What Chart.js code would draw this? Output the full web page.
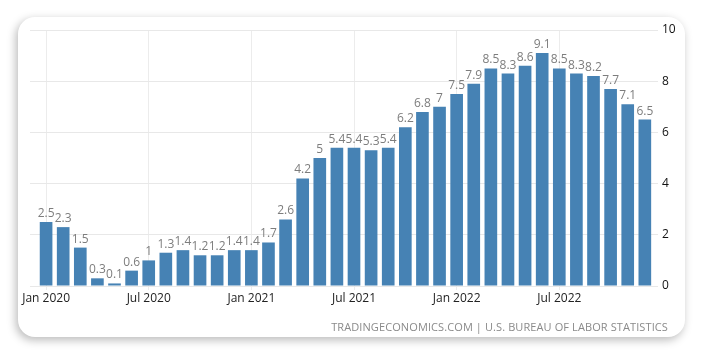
<!DOCTYPE html>
<html>
<head>
<meta charset="utf-8">
<script src="https://cdn.jsdelivr.net/npm/chart.js@4"></script>
<style>
  html, body { margin: 0; padding: 0; background: #ffffff; }
  body { width: 704px; height: 356px; position: relative; overflow: hidden; font-family: "Open Sans", sans-serif; }
  #card { position: absolute; left: 18px; top: 17px; width: 667px; height: 320px; background: #fff; border-radius: 17px; box-shadow: -2px 3px 10px rgba(0,0,0,0.28); }
  #wrap { position: absolute; left: 0; top: 0; width: 704px; height: 356px; }
  #src { position: absolute; right: 36px; top: 319px; font-size: 11px; color: #8a8a8a; letter-spacing: 0.1px; white-space: nowrap; }
</style>
</head>
<body>
<div id="card"></div>
<div id="wrap"><canvas id="c" width="704" height="356"></canvas></div>
<div id="src">TRADINGECONOMICS.COM | U.S. BUREAU OF LABOR STATISTICS</div>
<script>
const months = [
  "Jan 2020","Feb 2020","Mar 2020","Apr 2020","May 2020","Jun 2020","Jul 2020","Aug 2020","Sep 2020","Oct 2020","Nov 2020","Dec 2020",
  "Jan 2021","Feb 2021","Mar 2021","Apr 2021","May 2021","Jun 2021","Jul 2021","Aug 2021","Sep 2021","Oct 2021","Nov 2021","Dec 2021",
  "Jan 2022","Feb 2022","Mar 2022","Apr 2022","May 2022","Jun 2022","Jul 2022","Aug 2022","Sep 2022","Oct 2022","Nov 2022","Dec 2022"
];
const inflation = [
  2.5, 2.3, 1.5, 0.3, 0.1, 0.6, 1, 1.3, 1.4, 1.2, 1.2, 1.4,
  1.4, 1.7, 2.6, 4.2, 5, 5.4, 5.4, 5.3, 5.4, 6.2, 6.8, 7,
  7.5, 7.9, 8.5, 8.3, 8.6, 9.1, 8.5, 8.3, 8.2, 7.7, 7.1, 6.5
];
const xTickIndices = [0, 6, 12, 18, 24, 30];
const yTicks = [0, 2, 4, 6, 8, 10];

const points = inflation.map((v, i) => ({ x: i, y: v }));

const valueLabels = {
  id: 'valueLabels',
  afterDatasetsDraw(chart) {
    const ctx = chart.ctx;
    const meta = chart.getDatasetMeta(0);
    ctx.save();
    ctx.font = '12px "Open Sans"';
    ctx.fillStyle = '#7d7d7d';
    ctx.textAlign = 'center';
    ctx.textBaseline = 'alphabetic';
    meta.data.forEach((el, i) => {
      ctx.fillText(String(inflation[i]), el.x, el.y - 5);
    });
    ctx.restore();
  }
};

new Chart(document.getElementById('c'), {
  type: 'bar',
  data: {
    datasets: [{
      data: points,
      backgroundColor: '#4682b4',
      borderWidth: 0,
      categoryPercentage: 1,
      barPercentage: 0.74
    }]
  },
  options: {
    responsive: false,
    animation: false,
    devicePixelRatio: 1,
    layout: { padding: { left: 30, top: 30, right: 16, bottom: 40 } },
    plugins: { legend: { display: false }, tooltip: { enabled: false } },
    scales: {
      x: {
        type: 'linear',
        offset: false,
        min: -0.94,
        max: 35.77,
        afterBuildTicks(scale) { scale.ticks = xTickIndices.map(v => ({ value: v })); },
        afterFit(scale) { scale.height = 30; },
        ticks: {
          callback: (v) => months[v],
          font: { family: 'Open Sans', size: 12 },
          color: '#222',
          padding: 1,
          maxRotation: 0,
          autoSkip: false
        },
        grid: { color: '#ececec', tickLength: 4, offset: false, drawOnChartArea: true },
        border: { display: false }
      },
      y: {
        position: 'right',
        min: 0,
        max: 10,
        afterBuildTicks(scale) { scale.ticks = yTicks.map(v => ({ value: v })); },
        afterFit(scale) { scale.width = 30; },
        ticks: {
          font: { family: 'Open Sans', size: 12 },
          color: '#111',
          padding: 4
        },
        grid: { color: '#e8e8e8', drawTicks: false },
        border: { display: false }
      }
    }
  },
  plugins: [valueLabels]
});
</script>
</body>
</html>
